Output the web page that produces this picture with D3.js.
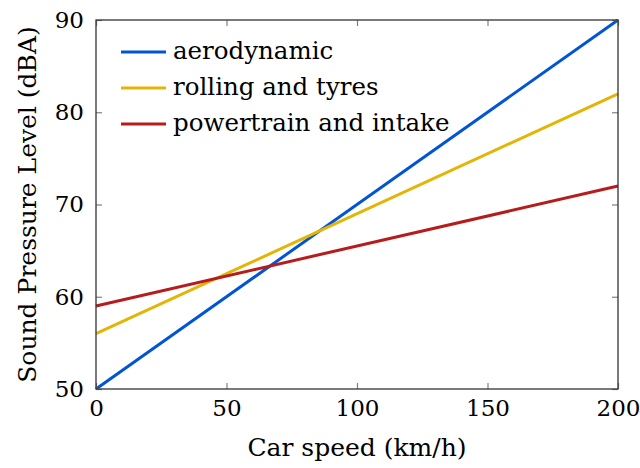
<!DOCTYPE html>
<html>
<head>
<meta charset="utf-8">
<script src="https://cdn.jsdelivr.net/npm/d3@7"></script>
<style>
  body { margin: 0; background: #fff; }
  svg text { font-family: "DejaVu Serif", "Liberation Serif", serif; }
</style>
</head>
<body>
<div id="chart"></div>
<script>
const speeds = [0, 200];
const aerodynamic = [50, 90];
const rolling = [56, 82];
const powertrain = [59, 72];
const seriesNames = ["aerodynamic", "rolling and tyres", "powertrain and intake"];
const seriesColors = ["#0055d4", "#e3b505", "#b71c1c"];
const xTicks = [0, 50, 100, 150, 200];
const yTicks = [50, 60, 70, 80, 90];

const width = 640, height = 468;
const marginLeft = 96, marginRight = 22, marginTop = 20, marginBottom = 79;

const x = d3.scaleLinear().domain([0, 200]).range([marginLeft, width - marginRight]);
const y = d3.scaleLinear().domain([50, 90]).range([height - marginBottom, marginTop]);

const svg = d3.select("#chart").append("svg")
  .attr("width", width).attr("height", height)
  .attr("viewBox", [0, 0, width, height]);

const series = [aerodynamic, rolling, powertrain].map((vals, i) => ({
  name: seriesNames[i], color: seriesColors[i],
  points: speeds.map((s, j) => ({ s, v: vals[j] }))
}));

// lignes
const line = d3.line().x(d => x(d.s)).y(d => y(d.v));
svg.append("g").selectAll("path").data(series).join("path")
  .attr("fill", "none")
  .attr("stroke", d => d.color)
  .attr("stroke-width", 3)
  .attr("d", d => line(d.points));

// axes (ticks inside, pgfplots style)
const tickStyle = g => {
  g.select(".domain").remove();
  g.selectAll("line").attr("stroke", "#808080").attr("stroke-width", 1.2);
  g.selectAll("text").attr("font-size", 23).attr("fill", "#000");
};
svg.append("g").attr("transform", `translate(0,${y(50)})`)
  .call(d3.axisBottom(x).tickValues(xTicks).tickSizeInner(-6).tickSizeOuter(0).tickPadding(11))
  .call(tickStyle);
svg.append("g").attr("transform", `translate(0,${y(90)})`)
  .call(d3.axisTop(x).tickValues(xTicks).tickSizeInner(-6).tickSizeOuter(0).tickFormat(""))
  .call(tickStyle);
svg.append("g").attr("transform", `translate(${x(0)},0)`)
  .call(d3.axisLeft(y).tickValues(yTicks).tickSizeInner(-6).tickSizeOuter(0).tickPadding(12))
  .call(tickStyle);
svg.append("g").attr("transform", `translate(${x(200)},0)`)
  .call(d3.axisRight(y).tickValues(yTicks).tickSizeInner(-6).tickSizeOuter(0).tickFormat(""))
  .call(tickStyle);

// cadre
svg.append("rect")
  .attr("x", x(0)).attr("y", y(90))
  .attr("width", x(200) - x(0)).attr("height", y(50) - y(90))
  .attr("fill", "none").attr("stroke", "#333").attr("stroke-width", 1.3);

// légende
const legend = svg.append("g").attr("transform", `translate(${x(0) + 25},${y(90) + 32})`);
series.forEach((d, i) => {
  const row = legend.append("g").attr("transform", `translate(0,${i * 36})`);
  row.append("line").attr("x1", 0).attr("x2", 45).attr("stroke", d.color).attr("stroke-width", 3);
  row.append("text").attr("x", 52).attr("dy", "0.3em").attr("font-size", 24.5).text(d.name);
});

// titres d'axes
svg.append("text")
  .attr("x", (x(0) + x(200)) / 2).attr("y", height - 12)
  .attr("text-anchor", "middle").attr("font-size", 25)
  .text("Car speed (km/h)");
svg.append("text")
  .attr("transform", `translate(36,${(y(50) + y(90)) / 2}) rotate(-90)`)
  .attr("text-anchor", "middle").attr("font-size", 25)
  .text("Sound Pressure Level (dBA)");
</script>
</body>
</html>
